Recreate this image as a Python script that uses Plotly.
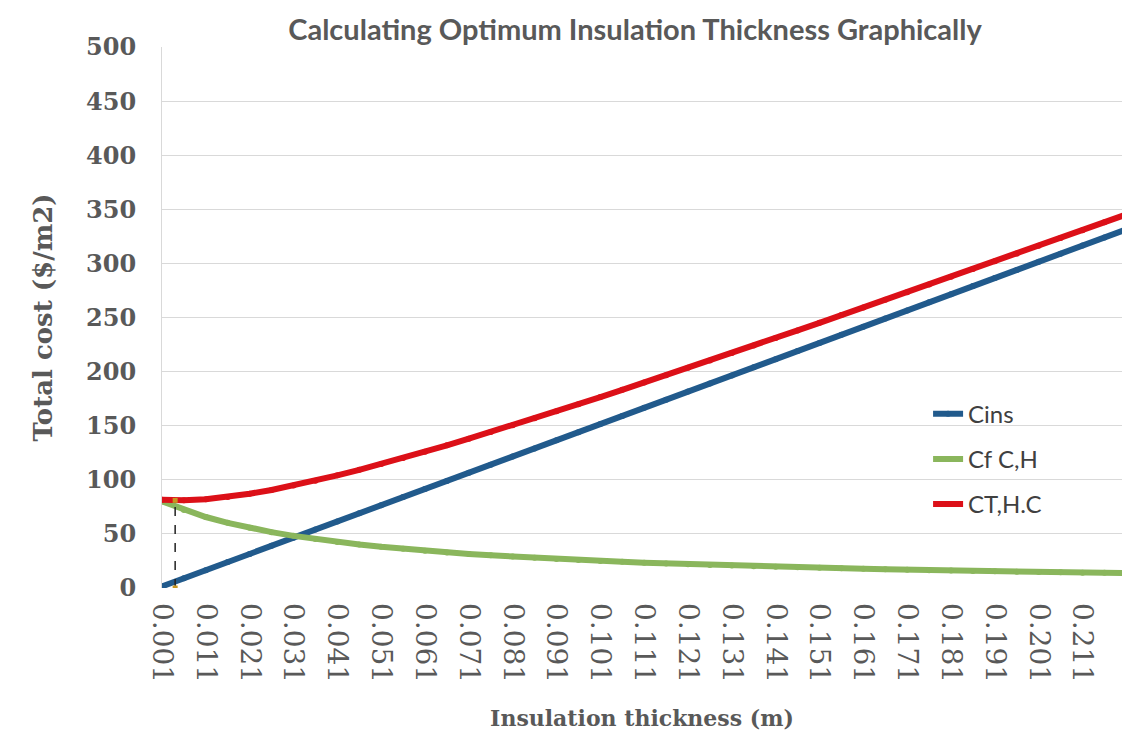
import plotly.graph_objects as go

# Insulation thickness (m)
thickness = [0.001, 0.006, 0.011, 0.016, 0.021, 0.026, 0.031, 0.036, 0.041, 0.046,
             0.051, 0.056, 0.061, 0.066, 0.071, 0.076, 0.081, 0.086, 0.091, 0.096,
             0.101, 0.106, 0.111, 0.116, 0.121, 0.126, 0.131, 0.136, 0.141, 0.146,
             0.151, 0.156, 0.161, 0.166, 0.171, 0.176, 0.181, 0.186, 0.191, 0.196,
             0.201, 0.206, 0.211, 0.216, 0.221]

cins = [1.5, 9.0, 16.5, 24.0, 31.5, 39.0, 46.5, 54.0, 61.5, 69.0,
        76.5, 84.0, 91.5, 99.0, 106.5, 114.0, 121.5, 129.0, 136.5, 144.0,
        151.5, 159.0, 166.5, 174.0, 181.5, 189.0, 196.5, 204.0, 211.5, 219.0,
        226.5, 234.0, 241.5, 249.0, 256.5, 264.0, 271.5, 279.0, 286.5, 294.0,
        301.5, 309.0, 316.5, 324.0, 331.5]

cf_ch = [80.0, 72.1, 65.6, 60.2, 55.6, 51.6, 48.2, 45.2, 42.6, 40.2,
         38.1, 36.2, 34.5, 32.9, 31.5, 30.2, 29.0, 27.9, 26.9, 25.9,
         25.0, 24.2, 23.4, 22.7, 22.0, 21.3, 20.7, 20.2, 19.6, 19.1,
         18.6, 18.2, 17.7, 17.3, 16.9, 16.5, 16.1, 15.8, 15.5, 15.1,
         14.8, 14.5, 14.2, 14.0, 13.7]

ct_hc = [81.5, 81.1, 82.1, 84.2, 87.1, 90.6, 94.7, 99.2, 104.1, 109.2,
         114.6, 120.2, 126.0, 131.9, 138.0, 144.2, 150.5, 156.9, 163.4, 169.9,
         176.5, 183.2, 189.9, 196.7, 203.5, 210.3, 217.2, 224.2, 231.1, 238.1,
         245.1, 252.2, 259.2, 266.3, 273.4, 280.5, 287.6, 294.8, 302.0, 309.1,
         316.3, 323.5, 330.7, 338.0, 345.2]

# optimum marker (dashed drop line)
opt_x = [0.004, 0.004]
opt_y = [0, 81.0]

x_tickvals = [0.001, 0.011, 0.021, 0.031, 0.041, 0.051, 0.061, 0.071, 0.081, 0.091,
              0.101, 0.111, 0.121, 0.131, 0.141, 0.151, 0.161, 0.171, 0.181, 0.191,
              0.201, 0.211]
x_ticktext = ["0.001", "0.011", "0.021", "0.031", "0.041", "0.051", "0.061", "0.071",
              "0.081", "0.091", "0.101", "0.111", "0.121", "0.131", "0.141", "0.151",
              "0.161", "0.171", "0.181", "0.191", "0.201", "0.211"]
y_tickvals = [0, 50, 100, 150, 200, 250, 300, 350, 400, 450, 500]

BLUE = "#215a8c"
GREEN = "#8ab65c"
RED = "#dc1018"

fig = go.Figure()
fig.add_trace(go.Scatter(x=thickness, y=cins, name="Cins", mode="lines+markers",
                         line=dict(color=BLUE, width=6), marker=dict(size=6, color=BLUE),
                         legendgroup="a"))
fig.add_trace(go.Scatter(x=thickness, y=cf_ch, name="Cf C,H", mode="lines+markers",
                         line=dict(color=GREEN, width=6), marker=dict(size=6, color=GREEN),
                         legendgroup="b"))
fig.add_trace(go.Scatter(x=thickness, y=ct_hc, name="CT,H.C", mode="lines+markers",
                         line=dict(color=RED, width=6), marker=dict(size=6, color=RED),
                         legendgroup="c"))
fig.add_trace(go.Scatter(x=opt_x, y=opt_y, mode="lines+markers", showlegend=False,
                         line=dict(color="#222222", width=1.5, dash="dash"),
                         marker=dict(size=5, color="#c8961e", symbol="square")))

serif = "DejaVu Serif, serif"
fig.update_layout(
    width=1122, height=736,
    margin=dict(l=162, r=0, t=47, b=148),
    paper_bgcolor="white", plot_bgcolor="white",
    title=dict(text="<b>Calculating Optimum Insulation Thickness Graphically</b>",
               x=635 / 1122, xanchor="center", y=1 - 30 / 736, yanchor="middle",
               font=dict(family="Lato, Open Sans, sans-serif", size=29, color="#595959")),
    showlegend=True,
    legend=dict(x=0.798, y=0.363, xanchor="left", yanchor="top",
                bgcolor="rgba(0,0,0,0)", tracegroupgap=11, itemwidth=30,
                font=dict(family="Lato, Open Sans, sans-serif", size=24, color="#404040")),
    xaxis=dict(range=[0.001, 0.220], tickmode="array", tickvals=x_tickvals,
               ticktext=x_ticktext, tickangle=90, showgrid=False, zeroline=False,
               showline=False, ticks="", ticklabelstandoff=14,
               tickfont=dict(family=serif, size=28, color="#595959"),
               title=dict(text="<b>Insulation thickness (m)</b>", standoff=28,
                          font=dict(family=serif, size=22, color="#595959"))),
    yaxis=dict(range=[0, 500], tickmode="array", tickvals=y_tickvals,
               showgrid=True, gridcolor="#d9d9d9", gridwidth=1, zeroline=False,
               showline=True, linecolor="#d9d9d9", linewidth=1, ticks="",
               ticklabelstandoff=20,
               tickfont=dict(family=serif, size=24, color="#595959", weight="bold"),
               title=dict(text="<b>Total cost ($/m2)</b>", standoff=25,
                          font=dict(family=serif, size=26, color="#595959"))),
)

fig.write_html("out.html", config={"displayModeBar": False},
               post_script="document.body.style.margin='0';document.body.style.overflow='hidden';")
